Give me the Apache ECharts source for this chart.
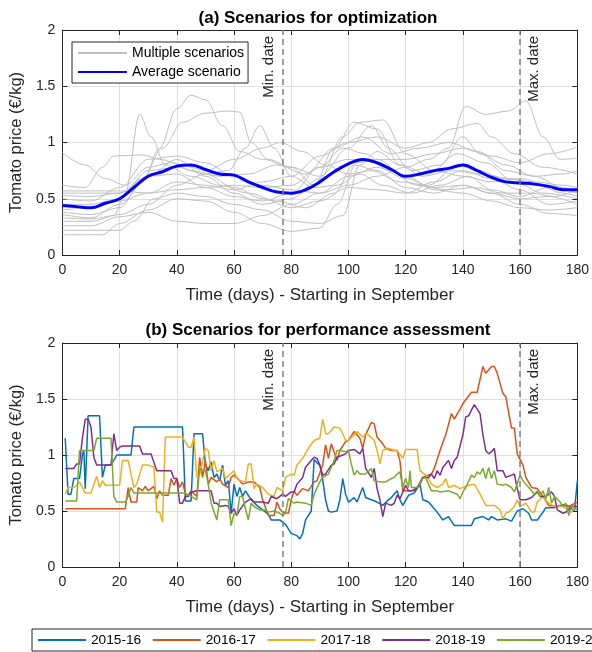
<!DOCTYPE html>
<html>
<head>
<meta charset="utf-8">
<script src="https://cdn.jsdelivr.net/npm/echarts@6/dist/echarts.min.js"></script>
<style>
html,body{margin:0;padding:0;background:#fff}
#main{width:592px;height:652px}
</style>
</head>
<body>
<div id="main"></div>
<script>
// ---- data ----
var dateLimits = [77, 160]   // min / max date, days
var xTicks = [0, 180, 20]
var yTicks = [0, 2, 0.5]

// (a) average scenario, every 5 days
var avgDays = [0,5,10,15,20,25,30,35,40,45,50,55,60,65,70,75,80,85,90,95,100,105,110,115,120,125,130,135,140,145,150,155,160,165,170,175,180]
var avgPrice = [0.44,0.43,0.42,0.46,0.50,0.60,0.70,0.74,0.79,0.80,0.76,0.72,0.71,0.65,0.60,0.56,0.55,0.58,0.65,0.74,0.81,0.85,0.82,0.76,0.70,0.72,0.75,0.77,0.80,0.75,0.69,0.65,0.64,0.63,0.61,0.58,0.58]

// (a) multiple scenarios, [day, price]
var scen01 = [[0,0.91],[8,0.80],[15,0.68],[22,0.62],[30,0.78],[38,0.82],[45,0.75],[55,0.70],[65,0.72],[75,0.80],[85,0.72],[95,0.95],[105,1.05],[115,0.90],[125,0.95],[135,1.00],[145,0.92],[155,0.80],[165,0.70],[175,0.72],[180,0.75]]
var scen02 = [[0,0.38],[10,0.36],[20,0.42],[28,0.65],[34,0.95],[40,1.30],[45,1.42],[50,1.38],[56,1.15],[62,0.92],[70,0.85],[80,0.78],[88,0.62],[95,0.95],[102,1.18],[110,1.12],[118,0.80],[128,0.72],[138,0.90],[148,0.82],[158,0.65],[168,0.55],[180,0.50]]
var scen03 = [[0,0.33],[10,0.32],[18,0.35],[22,0.55],[27,1.25],[31,1.05],[36,0.80],[45,0.70],[55,0.62],[65,0.55],[75,0.48],[85,0.42],[95,0.55],[102,0.80],[110,0.75],[120,0.60],[130,0.55],[140,0.62],[150,0.55],[160,0.50],[170,0.52],[180,0.45]]
var scen04 = [[0,0.55],[10,0.55],[20,0.55],[28,0.68],[35,0.95],[42,1.18],[50,1.26],[58,1.28],[62,1.27],[66,1.00],[72,0.85],[80,0.78],[90,0.70],[100,0.95],[108,1.15],[114,0.95],[122,0.75],[132,0.80],[140,1.05],[146,0.90],[155,0.75],[165,0.70],[175,0.60],[180,0.55]]
var scen05 = [[0,0.45],[10,0.45],[20,0.50],[30,0.75],[40,0.78],[50,0.72],[58,0.75],[64,0.95],[69,1.15],[74,0.95],[80,0.70],[88,0.60],[96,0.62],[104,0.72],[112,0.62],[122,0.55],[132,0.62],[142,0.70],[150,0.58],[160,0.52],[170,0.60],[180,0.55]]
var scen06 = [[0,0.62],[8,0.60],[14,0.78],[18,0.88],[28,0.89],[34,0.85],[42,0.80],[50,0.75],[60,0.85],[70,0.95],[76,1.00],[84,0.92],[92,0.80],[100,0.72],[108,0.75],[118,0.65],[128,0.62],[138,0.80],[145,0.75],[155,0.68],[165,0.65],[175,0.62],[180,0.60]]
var scen07 = [[0,0.26],[10,0.26],[20,0.34],[30,0.38],[40,0.30],[50,0.28],[60,0.28],[70,0.35],[80,0.45],[90,0.55],[100,0.70],[110,0.78],[120,0.68],[130,0.60],[140,0.62],[150,0.55],[160,0.45],[170,0.37],[180,0.35]]
var scen08 = [[0,0.18],[14,0.18],[20,0.28],[30,0.40],[40,0.50],[50,0.48],[60,0.38],[70,0.28],[80,0.21],[90,0.24],[96,0.45],[103,0.82],[110,0.85],[120,0.70],[130,0.58],[140,0.55],[150,0.48],[160,0.42],[170,0.40],[180,0.42]]
var scen09 = [[0,0.22],[10,0.22],[20,0.22],[25,0.30],[32,0.50],[40,0.55],[50,0.52],[60,0.45],[70,0.40],[80,0.30],[90,0.28],[98,0.35],[104,0.80],[110,0.92],[118,0.80],[126,0.70],[136,0.75],[146,0.72],[156,0.68],[166,0.62],[175,0.55],[180,0.52]]
var scen10 = [[0,0.50],[10,0.48],[20,0.60],[30,0.85],[40,0.88],[50,0.82],[60,0.70],[70,0.62],[80,0.58],[90,0.55],[100,0.62],[110,0.70],[120,0.78],[128,0.85],[135,0.95],[141,1.32],[148,1.25],[156,1.28],[162,1.37],[168,1.05],[174,0.85],[180,0.86]]
var scen11 = [[0,0.40],[10,0.42],[20,0.48],[30,0.55],[40,0.65],[50,0.62],[60,0.58],[70,0.65],[80,0.70],[90,0.88],[100,1.00],[110,1.05],[120,0.95],[128,1.00],[136,1.12],[145,1.17],[150,1.05],[158,0.90],[168,0.78],[180,0.72]]
var scen12 = [[0,0.53],[10,0.52],[20,0.55],[30,0.70],[40,0.85],[50,0.70],[60,0.55],[70,0.45],[80,0.50],[90,0.68],[98,1.05],[104,1.18],[112,1.20],[120,0.90],[130,0.75],[140,0.70],[150,0.65],[160,0.68],[170,0.62],[180,0.55]]
var scen13 = [[0,0.30],[10,0.30],[20,0.36],[30,0.45],[40,0.62],[50,0.72],[60,0.60],[70,0.50],[80,0.42],[90,0.48],[100,0.60],[110,0.58],[120,0.55],[130,0.65],[140,0.75],[150,0.68],[160,0.58],[170,0.45],[180,0.48]]
var scen14 = [[0,0.36],[10,0.33],[20,0.45],[30,0.70],[40,0.72],[50,0.60],[60,0.52],[70,0.48],[80,0.55],[90,0.78],[98,0.95],[106,0.90],[114,0.75],[124,0.62],[134,0.58],[144,0.60],[154,0.55],[164,0.55],[172,0.52],[180,0.58]]
var scen15 = [[0,0.57],[10,0.57],[20,0.57],[30,0.55],[40,0.58],[50,0.60],[60,0.62],[70,0.60],[80,0.62],[90,0.78],[100,0.85],[110,0.85],[120,0.85],[130,0.90],[140,0.95],[150,0.88],[160,0.82],[170,0.90],[180,0.96]]

// (b) observed seasons, [day, price]
var years = ['2015-16','2016-17','2017-18','2018-19','2019-20']
var s1516 = [[1,1.15],[2,0.65],[3,0.65],[4,0.79],[6,0.79],[7,1.0],[7.5,1.04],[8,0.70],[9,1.35],[13,1.35],[14,0.80],[15,0.91],[17,0.91],[19,1.0],[24,1.0],[25,1.25],[42,1.25],[43,0.59],[45,0.59],[46,1.19],[49,1.19],[50,0.92],[51,0.86],[52,0.94],[53,0.80],[54,0.83],[55,0.77],[56,0.91],[57,0.73],[58,0.77],[59,0.48],[60,0.74],[61,0.63],[62,0.71],[63,0.63],[64,0.68],[66,0.60],[68,0.55],[70,0.51],[72,0.47],[73,0.42],[76,0.42],[78,0.38],[80,0.30],[82,0.28],[83,0.25],[84,0.30],[85,0.42],[87,0.50],[88,0.96],[89,0.93],[90,0.91],[91,0.78],[92,0.60],[93,0.50],[94,0.49],[96,0.50],[97,0.60],[98,0.79],[99,0.65],[100,0.58],[102,0.62],[103,0.58],[105,0.71],[106,0.62],[108,0.60],[110,0.58],[112,0.55],[114,0.60],[115,0.62],[117,0.68],[118,0.60],[119,0.55],[121,0.64],[123,0.66],[125,0.74],[126,0.60],[128,0.58],[130,0.52],[131,0.49],[133,0.42],[135,0.45],[137,0.37],[143,0.37],[144,0.43],[147,0.45],[149,0.42],[150,0.45],[152,0.42],[155,0.43],[157,0.41],[159,0.50],[161,0.52],[163,0.48],[164,0.42],[166,0.42],[168,0.49],[169,0.53],[172,0.53],[174,0.55],[176,0.56],[178,0.52],[179,0.50],[180,0.77]]
var s1617 = [[1,0.52],[22,0.52],[23,0.71],[24,0.58],[26,0.58],[26.5,0.71],[28,0.68],[29,0.72],[30,0.68],[32,0.72],[33,0.61],[34,0.68],[35,0.64],[37,0.64],[38,0.79],[39,0.73],[40,0.79],[41,0.71],[42,0.76],[43,0.65],[44,0.64],[45,0.68],[47,0.63],[48,0.98],[49,0.80],[50,0.95],[51,0.74],[52,0.80],[54,0.76],[55,0.79],[56,0.74],[58,0.71],[59,0.80],[60,0.82],[62,0.77],[63,0.74],[65,0.76],[67,0.76],[69,0.71],[70,0.60],[72,0.46],[74,0.46],[75,0.58],[76,0.52],[77,0.49],[79,0.48],[80,0.60],[81,0.68],[82,0.64],[84,0.70],[86,0.68],[88,0.76],[89,0.77],[91,0.91],[92,1.09],[93,0.97],[94,1.10],[96,0.95],[97,1.04],[99,1.12],[100,1.13],[102,1.21],[104,1.15],[105,1.06],[106,1.18],[108,1.29],[109,1.28],[110,1.16],[112,1.10],[113,1.06],[115,1.04],[117,1.04],[118,0.95],[119,0.68],[122,0.68],[124,0.71],[126,0.80],[129,0.83],[130,0.88],[132,1.04],[134,1.18],[136,1.37],[137,1.32],[139,1.41],[140,1.46],[143,1.56],[145,1.56],[147,1.79],[148,1.73],[150,1.79],[151,1.79],[152,1.73],[154,1.55],[155,1.52],[157,1.24],[158,1.24],[159,1.01],[161,0.91],[162,0.80],[164,0.71],[166,0.70],[168,0.63],[170,0.55],[173,0.54],[175,0.55],[177,0.54],[180,0.58]]
var s1718 = [[1,0.65],[2,0.71],[4,0.71],[5,0.73],[6,0.76],[8,0.66],[10,0.66],[12,0.81],[13,0.71],[14,0.77],[15,0.73],[20,0.73],[21,0.95],[23,0.95],[25,0.71],[26,0.74],[28,0.91],[30,0.91],[32,0.89],[33,0.49],[34,0.49],[35,0.40],[36,1.16],[42,1.16],[44,1.07],[45,1.07],[46,1.16],[47,0.80],[48,0.82],[50,1.06],[51,1.04],[52,0.86],[53,0.95],[54,0.85],[56,0.88],[57,0.79],[60,0.86],[61,0.79],[62,0.77],[64,0.76],[65,0.92],[66,0.92],[67,0.70],[68,0.74],[70,0.71],[72,0.65],[74,0.63],[75,0.71],[77,0.68],[78,0.80],[80,0.83],[81,0.82],[82,0.91],[84,0.97],[86,1.06],[88,1.13],[90,1.15],[91,1.32],[92,1.19],[93,1.19],[95,1.25],[97,1.24],[98,1.19],[99,1.13],[100,1.13],[102,1.18],[103,1.21],[105,1.16],[106,1.19],[107,1.18],[109,1.13],[110,1.04],[111,0.92],[112,1.04],[114,1.06],[116,1.04],[117,1.04],[119,0.97],[120,1.05],[124,1.05],[125,0.86],[127,0.82],[128,0.79],[129,0.74],[131,0.71],[133,0.74],[134,0.79],[135,0.71],[137,0.73],[139,0.70],[142,0.73],[144,0.74],[146,0.65],[148,0.55],[151,0.55],[153,0.51],[154,0.43],[155,0.48],[156,0.49],[158,0.54],[159,0.60],[160,0.54],[162,0.57],[164,0.49],[165,0.49],[166,0.58],[168,0.63],[170,0.57],[172,0.54],[175,0.54],[178,0.49],[180,0.55]]
var s1819 = [[1,0.88],[4,0.88],[5,0.92],[6,0.92],[7,1.15],[8,1.32],[9,1.32],[10,1.25],[11,0.98],[12,0.91],[17,0.91],[18,1.19],[19,1.04],[20,1.07],[21,1.08],[27,1.08],[28,1.01],[31,1.01],[33,0.86],[38,0.86],[39,0.79],[40,0.79],[41,0.57],[42,0.57],[43,0.63],[44,0.63],[45,0.67],[47,0.68],[52,0.68],[53,0.57],[54,0.57],[55,0.54],[57,0.55],[58,0.54],[59,0.48],[60,0.52],[61,0.46],[62,0.51],[64,0.58],[66,0.61],[67,0.58],[70,0.58],[72,0.57],[73,0.63],[75,0.61],[77,0.65],[78,0.63],[80,0.67],[81,0.67],[82,0.74],[84,0.80],[85,0.89],[87,0.95],[88,0.98],[89,0.97],[90,0.91],[91,0.82],[92,0.83],[94,0.91],[95,0.92],[96,0.98],[98,1.0],[99,1.01],[100,1.04],[102,1.05],[103,1.03],[104,1.01],[105,1.06],[106,0.88],[108,0.80],[109,0.88],[110,0.70],[111,0.60],[112,0.45],[113,0.57],[115,0.55],[116,0.57],[117,0.64],[118,0.61],[120,0.73],[121,0.68],[123,0.68],[125,0.74],[126,0.80],[128,0.80],[129,0.83],[130,0.79],[131,0.86],[132,0.82],[133,0.89],[135,0.95],[136,0.88],[137,0.95],[138,0.98],[140,1.18],[141,1.34],[142,1.35],[143,1.40],[144,1.45],[146,1.37],[147,1.18],[148,1.04],[149,1.01],[150,1.03],[151,1.06],[152,0.86],[154,0.86],[155,0.80],[157,0.82],[158,0.83],[159,0.70],[160,0.60],[162,0.60],[164,0.62],[166,0.67],[167,0.63],[169,0.63],[171,0.67],[172,0.63],[173,0.51],[175,0.48],[176,0.49],[178,0.54],[180,0.54]]
var s1920 = [[1,0.59],[5,0.59],[6,1.04],[11,1.04],[12,1.15],[17,1.15],[18,0.63],[19,0.58],[22,0.58],[23,0.63],[24,0.71],[25,0.66],[43,0.66],[45,0.63],[47,0.60],[48,0.88],[50,0.86],[51,0.74],[52,0.57],[54,0.42],[55,0.60],[58,0.60],[59,0.37],[60,0.48],[61,0.46],[62,0.63],[63,0.63],[64,0.52],[65,0.42],[66,0.57],[67,0.54],[69,0.51],[71,0.51],[72,0.49],[74,0.50],[76,0.48],[77,0.46],[78,0.48],[79,0.61],[81,0.57],[82,0.58],[85,0.57],[87,0.55],[88,0.65],[90,0.76],[91,0.80],[93,0.83],[95,0.95],[96,1.04],[97,1.04],[99,1.03],[100,1.04],[101,0.92],[102,0.82],[103,0.86],[104,0.83],[106,0.83],[108,0.88],[109,0.77],[111,0.76],[113,0.76],[115,0.79],[116,0.80],[117,0.83],[118,0.85],[119,0.71],[120,0.79],[121,0.71],[121.5,0.86],[122,0.71],[124,0.71],[125,0.74],[126,0.79],[127,0.80],[129,0.68],[131,0.68],[132,0.67],[135,0.68],[136,0.67],[138,0.65],[139,0.61],[140,0.67],[141,0.71],[143,0.82],[144,0.80],[145,0.85],[146,0.83],[147,0.88],[148,0.79],[149,0.89],[150,0.79],[151,0.86],[152,0.74],[154,0.73],[155,0.74],[157,0.71],[158,0.67],[160,0.82],[161,0.77],[162,0.74],[164,0.68],[165,0.65],[166,0.68],[167,0.63],[168,0.68],[169,0.61],[170,0.71],[171,0.57],[172,0.63],[174,0.58],[175,0.54],[176,0.57],[177,0.46],[178,0.54],[180,0.51]]

var yearColors = ['#0072BD','#D95319','#EDB120','#7E2F8E','#77AC30']
var FONT = '"Liberation Sans", Arial, Helvetica, sans-serif'
var AXC = '#262626'

var myChart = echarts.init(document.getElementById('main'))

function xAx(g, pos, name, nameGap) {
    var main = pos == 'bottom'
    return {
        type: 'value', gridIndex: g, position: pos,
        min: xTicks[0], max: xTicks[1], interval: xTicks[2],
        name: main ? name : '', nameLocation: 'middle', nameGap: nameGap,
        nameTextStyle: {fontSize: 17, color: AXC, fontFamily: FONT},
        axisLine: {show: true, onZero: false, lineStyle: {color: AXC, width: 1}},
        axisTick: {show: true, inside: true, length: 5, lineStyle: {color: AXC}},
        axisLabel: {show: main, margin: 8, fontSize: 14, color: AXC, fontFamily: FONT},
        splitLine: {show: main, lineStyle: {color: '#e0e0e0', width: 1}}
    }
}
function yAx(g, pos) {
    var main = pos == 'left'
    return {
        type: 'value', gridIndex: g, position: pos,
        min: yTicks[0], max: yTicks[1], interval: yTicks[2],
        name: main ? 'Tomato price (€/kg)' : '', nameLocation: 'middle', nameGap: 28,
        nameTextStyle: {fontSize: 16.5, color: AXC, fontFamily: FONT},
        axisLine: {show: true, onZero: false, lineStyle: {color: AXC, width: 1}},
        axisTick: {show: true, inside: true, length: 5, lineStyle: {color: AXC}},
        axisLabel: {show: main, margin: 7, fontSize: 14, color: AXC, fontFamily: FONT},
        splitLine: {show: main, lineStyle: {color: '#e0e0e0', width: 1}}
    }
}

function dateLines() {
    return {
        silent: true, symbol: ['none', 'none'], animation: false,
        lineStyle: {color: '#808080', type: [6, 4], width: 1.5},
        label: {show: true, color: AXC, fontSize: 15, fontFamily: FONT, distance: 6},
        data: [
            {xAxis: dateLimits[0], label: {formatter: 'Min. date', position: 'insideEndTop'}},
            {xAxis: dateLimits[1], label: {formatter: 'Max. date', position: 'insideEndBottom'}}
        ]
    }
}

var scens = [scen01,scen02,scen03,scen04,scen05,scen06,scen07,scen08,scen09,scen10,scen11,scen12,scen13,scen14,scen15]
var series = []
scens.forEach(function (s) {
    series.push({
        name: 'Multiple scenarios', type: 'line', xAxisIndex: 0, yAxisIndex: 0,
        data: s, smooth: 0.35, smoothMonotone: 'x', showSymbol: false, symbol: 'none',
        lineStyle: {color: '#bfbfbf', width: 1}, itemStyle: {color: '#bfbfbf'}, z: 2
    })
})
series.push({
    name: 'Average scenario', type: 'line', xAxisIndex: 0, yAxisIndex: 0,
    data: avgDays.map(function (d, i) { return [d, avgPrice[i]] }),
    smooth: 0.4, showSymbol: false, symbol: 'none',
    lineStyle: {color: '#0000ff', width: 3}, itemStyle: {color: '#0000ff'}, z: 4,
    markLine: dateLines()
})
var obs = [s1516, s1617, s1718, s1819, s1920]
obs.forEach(function (s, i) {
    var o = {
        name: years[i], type: 'line', xAxisIndex: 2, yAxisIndex: 2,
        data: s, showSymbol: false, symbol: 'none',
        lineStyle: {color: yearColors[i], width: 1.5}, itemStyle: {color: yearColors[i]}, z: 3
    }
    if (i == 0) o.markLine = dateLines()
    series.push(o)
})

myChart.setOption({
    animation: false,
    backgroundColor: '#fff',
    grid: [
        {left: 59, right: 14, top: 30, height: 225},
        {left: 59, right: 14, top: 343, height: 224}
    ],
    xAxis: [
        xAx(0, 'bottom', 'Time (days) - Starting in September', 32),
        xAx(0, 'top'),
        xAx(1, 'bottom', 'Time (days) - Starting in September', 31.5),
        xAx(1, 'top')
    ],
    yAxis: [yAx(0, 'left'), yAx(0, 'right'), yAx(1, 'left'), yAx(1, 'right')],
    legend: [
        {
            data: ['Multiple scenarios', 'Average scenario'], orient: 'vertical',
            left: 72, top: 42, itemWidth: 49, itemHeight: 14, itemGap: 5,
            padding: [4, 4, 4, 5], borderColor: AXC, borderWidth: 1, backgroundColor: '#fff',
            itemStyle: {opacity: 0},
            selectedMode: false, textStyle: {fontSize: 14, color: '#000', fontFamily: FONT}
        },
        {
            data: years, orient: 'horizontal', left: 32, top: 629, width: 800,
            itemWidth: 48, itemHeight: 14, itemGap: 10.5,
            padding: [4, 80, 4, 5], borderColor: AXC, borderWidth: 1, backgroundColor: '#fff',
            itemStyle: {opacity: 0},
            selectedMode: false, textStyle: {fontSize: 13.7, color: '#000', fontFamily: FONT}
        }
    ],
    graphic: [
        {type: 'text', x: 318, y: 18, style: {text: '(a) Scenarios for optimization', fontSize: 17, fontWeight: 'bold', fontFamily: FONT, fill: '#000', align: 'center', verticalAlign: 'middle'}},
        {type: 'text', x: 318, y: 330, style: {text: '(b) Scenarios for performance assessment', fontSize: 17, fontWeight: 'bold', fontFamily: FONT, fill: '#000', align: 'center', verticalAlign: 'middle'}}
    ],
    series: series
})
</script>
</body>
</html>
